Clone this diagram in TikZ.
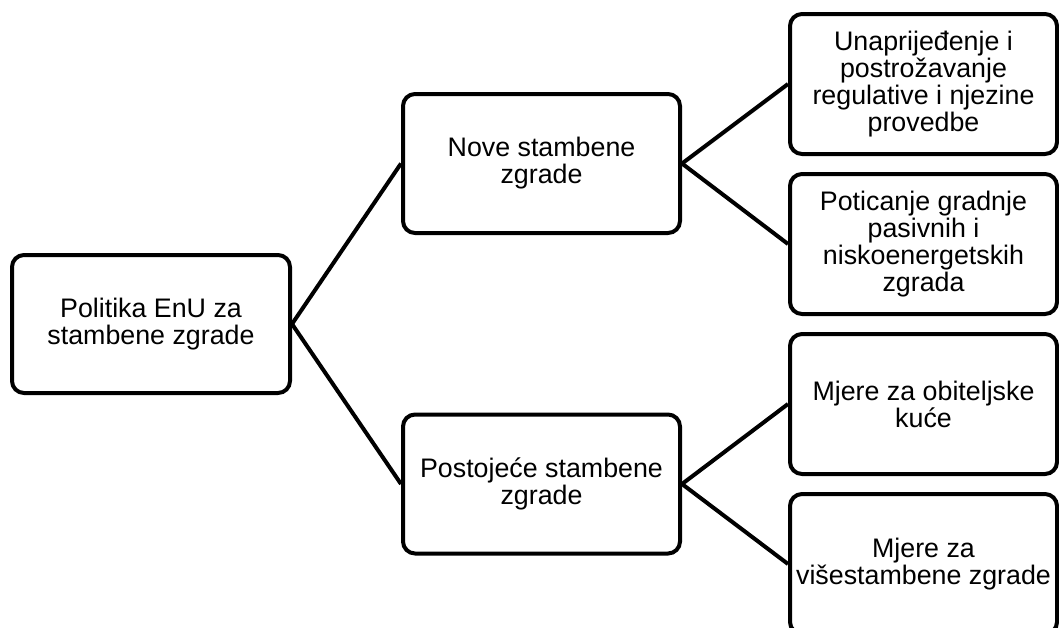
\documentclass[tikz,border=0pt]{standalone}
\usepackage{fontspec}
\setmainfont{Liberation Sans}
\tikzset{
  box/.style={draw, line width=4pt, rounded corners=12pt, align=center,
    inner sep=0pt, font=\fontsize{26.8}{27}\selectfont},
  rootbox/.style={box, minimum width=278, minimum height=138},
  midbox/.style={box, minimum width=277, minimum height=139},
  leafbox/.style={box, minimum width=267, minimum height=140},
}
\begin{document}
\begin{tikzpicture}[x=1pt,y=-1pt]
      \clip (0,0) rectangle (1059,627);
      \node[rootbox] (pol) at (151,324) {Politika EnU za\\stambene zgrade};
      \node[midbox] (nove) at (541.5,163.5) {Nove stambene\\zgrade};
      \node[midbox] (post) at (541.5,484) {Postojeće stambene\\zgrade};
      \node[leafbox] (unap) at (923.5,84) {Unaprijeđenje i\\postrožavanje\\regulative i njezine\\provedbe};
      \node[leafbox] (poti) at (923.5,244) {Poticanje gradnje\\pasivnih i\\niskoenergetskih\\zgrada};
      \node[leafbox] (obit) at (923.5,404) {Mjere za obiteljske\\kuće};
      \node[leafbox] (vise) at (923.5,564) {Mjere za\\višestambene zgrade};
      \begin{scope}[line width=4pt]
        \draw (pol.east) to (nove.west);
        \draw (pol.east) to (post.west);
        \draw (nove.east) to (unap.west);
        \draw (nove.east) to (poti.west);
        \draw (post.east) to (obit.west);
        \draw (post.east) to (vise.west);
      \end{scope}
    \end{tikzpicture}
\end{document}
